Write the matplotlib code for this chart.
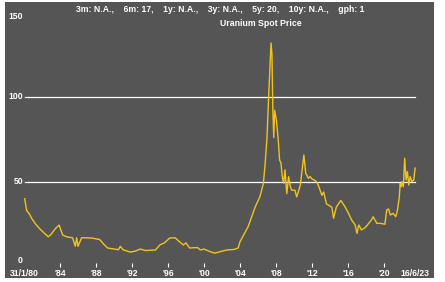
import matplotlib
matplotlib.use("Agg")
import matplotlib.pyplot as plt
from matplotlib.patches import Rectangle

# ---- data (decimal years, USD/lb) ----
years = [1980.08, 1980.3, 1980.6, 1980.9, 1981.3, 1981.8, 1982.3, 1982.7, 1983.0, 1983.5,
         1983.9, 1984.3, 1984.8, 1985.4, 1985.7, 1985.85, 1986.0, 1986.4, 1987.0, 1987.6,
         1988.4, 1988.9, 1989.3, 1989.9, 1990.5, 1990.7, 1991.0, 1991.8, 1992.4, 1992.9,
         1993.5, 1994.0, 1994.6, 1995.1, 1995.6, 1996.2, 1996.8, 1997.2, 1997.7, 1998.0,
         1998.4, 1999.0, 1999.3, 1999.6, 2000.0, 2000.6, 2001.2, 2001.8, 2002.5, 2003.4,
         2003.8, 2004.0, 2004.3, 2004.9, 2005.3, 2005.7, 2006.2, 2006.6, 2006.8, 2007.0,
         2007.2, 2007.45, 2007.55, 2007.65, 2007.75, 2007.85, 2008.05, 2008.25, 2008.4, 2008.55,
         2008.7, 2008.85, 2009.0, 2009.2, 2009.4, 2009.6, 2009.75, 2010.1, 2010.3, 2010.7,
         2010.9, 2011.1, 2011.3, 2011.6, 2011.8, 2012.0, 2012.4, 2012.7, 2013.1, 2013.3,
         2013.6, 2014.2, 2014.4, 2014.7, 2015.2, 2015.7, 2016.0, 2016.4, 2016.8, 2017.0,
         2017.2, 2017.5, 2017.8, 2018.0, 2018.3, 2018.6, 2018.8, 2019.2, 2019.6, 2020.1,
         2020.3, 2020.5, 2020.7, 2021.0, 2021.3, 2021.5, 2021.7, 2021.8, 2021.9, 2022.0,
         2022.15, 2022.3, 2022.45, 2022.6, 2022.75, 2022.9, 2023.1, 2023.3, 2023.46]
prices = [40, 33, 31, 28, 25, 22, 19.5, 17.6, 19, 22.5,
          24.5, 18.6, 17.5, 17, 12, 17, 12, 17, 17, 16.8,
          16, 13, 11, 10.5, 10, 12, 10, 8.6, 9.2, 10.4,
          9.5, 9.7, 9.8, 12.8, 14, 16.9, 17, 15, 12.8, 14,
          11, 11.2, 11.2, 9.8, 10.4, 9, 8, 8.8, 9.8, 10.2,
          11, 14.7, 17.6, 23.5, 29.4, 35.3, 41, 49, 61, 76,
          102, 131.6, 125, 92, 76, 92, 86, 74.5, 62.7, 61,
          53, 49, 57, 43, 53, 47, 45, 45, 41, 48,
          57, 65.7, 55, 52, 53, 51.6, 50.6, 48, 42, 44,
          37, 35, 28.5, 35, 39, 35, 32, 27.5, 24.5, 19.6,
          24.5, 21.6, 22.6, 23.5, 25.5, 27.5, 29.4, 25.5, 25.5, 25,
          33.3, 34, 30.4, 31.4, 29.4, 33.3, 41, 49, 47, 50,
          47, 63.8, 51, 56, 48, 53, 50, 51, 58]

x_ticks = [1984, 1988, 1992, 1996, 2000, 2004, 2008, 2012, 2016, 2020]
x_tick_labels = ["'84", "'88", "'92", "'96", "'00", "'04", "'08", "'12", "'16", "'20"]
start_label = "31/1/80"
end_label = "16/6/23"
y_ticks = [0, 50, 100, 150]
y_tick_labels = ["0", "50", "100", "150"]
grid_levels = [50, 100]
title_line1 = "3m: N.A.,    6m: 17,    1y: N.A.,    3y: N.A.,    5y: 20,    10y: N.A.,    gph: 1"
title_line2 = "Uranium Spot Price"

# ---- style ----
W, H = 445, 282
DPI = 100
bg = "#555555"
line_col = "#f2c31b"
font = ["Liberation Sans", "DejaVu Sans"]
label_kw = dict(color="white", fontsize=6.2, fontweight="bold", family=font)

fig = plt.figure(figsize=(W / DPI, H / DPI), dpi=DPI, facecolor="white")
fig.patches.append(Rectangle((5 / W, (H - 278) / H), 429 / W, 276 / H,
                             transform=fig.transFigure, facecolor=bg,
                             edgecolor="none", zorder=-10))

ax_left, ax_right = 24, 424
ax_bottom, ax_top = 266.7, 11.7
ax = fig.add_axes([ax_left / W, (H - ax_bottom) / H,
                   (ax_right - ax_left) / W, (ax_bottom - ax_top) / H])
ax.set_zorder(1)
ax.patch.set_visible(False)
for s in ax.spines.values():
    s.set_visible(False)

ax.set_xlim(1980, 1980 + (ax_right - ax_left) / 9.0)
ax.set_ylim(y_ticks[0], y_ticks[-1])

for g in grid_levels:
    ax.plot([years[0], years[-1]], [g, g], color="white", lw=0.9, zorder=1)

ax.plot(years, prices, color=line_col, lw=1.0, zorder=3, solid_joinstyle="round")

ax.set_xticks(x_ticks)
ax.set_xticklabels(x_tick_labels)
ax.tick_params(axis="x", direction="in", length=3, width=0.8, color="white",
               labelcolor="white", labelsize=6.2, pad=1.5)
for lab in ax.get_xticklabels():
    lab.set_fontfamily(font)
    lab.set_fontweight("bold")
ax.set_yticks([])

# end labels of the x axis
xt = ax.get_xaxis_transform()
for xv, lab in [(years[0], start_label), (years[-1], end_label)]:
    ax.annotate(lab, xy=(xv, 0), xycoords=xt, xytext=(0, -1.5), textcoords="offset points",
                ha="center", va="top", annotation_clip=False, **label_kw)

# y labels in figure coordinates derived from the axis scale
ylo, yhi = ax.get_ylim()
for yv, lab in zip(y_ticks, y_tick_labels):
    py = ax_bottom - (yv - ylo) / (yhi - ylo) * (ax_bottom - ax_top)  # pixel row
    if yv == y_ticks[0]:
        py -= 6.5
    elif yv == y_ticks[-1]:
        py += 5.0
    fig.text((ax_left - 1.0) / W, 1 - py / H, lab, ha="right", va="center", **label_kw)

fig.text(220 / W, 1 - 9 / H, title_line1, ha="center", va="center", color="white",
         fontsize=6.2, fontweight="bold", family=font)
fig.text(261 / W, 1 - 23 / H, title_line2, ha="center", va="center", color="white",
         fontsize=6.3, fontweight="bold", family=font)

fig.savefig("out.png", dpi=DPI, facecolor="white")
